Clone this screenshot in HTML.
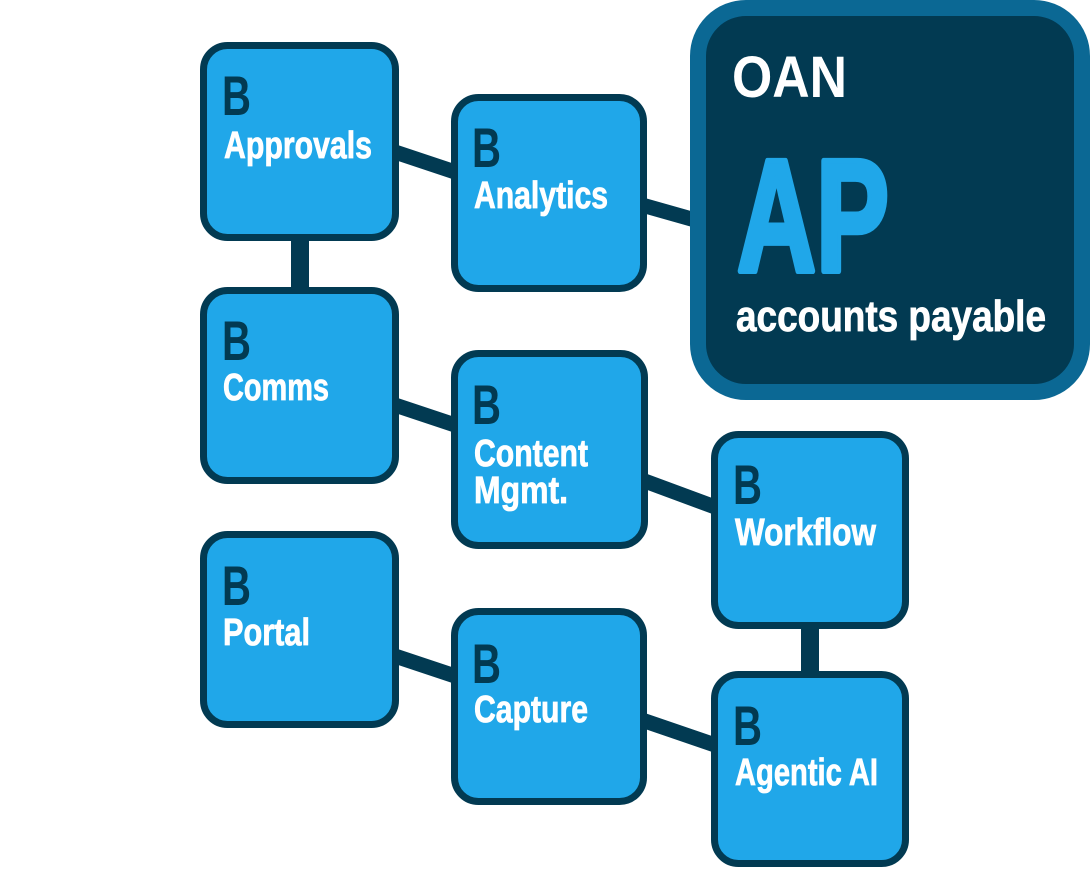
<!DOCTYPE html>
<html><head><meta charset="utf-8">
<style>
html,body{margin:0;padding:0;background:#fff;}
svg{display:block;}
.b{font-family:"Liberation Sans Narrow","Liberation Sans",sans-serif;font-weight:bold;fill:#023a52;font-size:56px;}
.l{font-family:"Liberation Sans Narrow","Liberation Sans",sans-serif;font-weight:bold;fill:#fff;font-size:38px;stroke:#fff;stroke-width:0.8;}
</style></head>
<body>
<svg width="1090" height="870" viewBox="0 0 1090 870" xmlns="http://www.w3.org/2000/svg">
<g stroke="#023a52" stroke-width="15" fill="none">
  <line x1="395" y1="152" x2="455" y2="172"/>
  <line x1="642" y1="205" x2="695" y2="220"/>
  <line x1="300" y1="238" x2="300" y2="290" stroke-width="18"/>
  <line x1="395" y1="405" x2="455" y2="425"/>
  <line x1="642" y1="480" x2="715" y2="507"/>
  <line x1="395" y1="656" x2="455" y2="676"/>
  <line x1="642" y1="720" x2="715" y2="745"/>
  <line x1="810" y1="625" x2="810" y2="674" stroke-width="18"/>
</g>
<g fill="#20a7e9" stroke="#023a52" stroke-width="7">
  <rect x="203.5" y="45.5" width="192" height="192" rx="24"/>
  <rect x="454.5" y="97.5" width="189" height="191" rx="24"/>
  <rect x="203.5" y="290.5" width="192" height="190" rx="24"/>
  <rect x="454.5" y="353.5" width="190" height="192" rx="24"/>
  <rect x="714.5" y="434.5" width="191" height="191" rx="24"/>
  <rect x="203.5" y="534.5" width="192" height="190" rx="24"/>
  <rect x="454.5" y="611.5" width="189" height="190" rx="24"/>
  <rect x="714.5" y="674.5" width="191" height="189" rx="24"/>
</g>
<rect x="698" y="8" width="384" height="384" rx="48" fill="#023a52" stroke="#0b6894" stroke-width="16"/>
<text x="732" y="97" font-family="Liberation Sans,sans-serif" font-weight="bold" font-size="58" fill="#fff" textLength="115" lengthAdjust="spacingAndGlyphs">OAN</text>
<text x="737" y="271" font-family="Liberation Sans Narrow,Liberation Sans,sans-serif" font-weight="bold" font-size="160" fill="#20a7e9" stroke="#20a7e9" stroke-width="6" stroke-linejoin="round" textLength="152" lengthAdjust="spacingAndGlyphs">AP</text>
<text x="736" y="331" font-family="Liberation Sans Narrow,Liberation Sans,sans-serif" font-weight="bold" font-size="44" fill="#fff" stroke="#fff" stroke-width="0.8" textLength="310" lengthAdjust="spacingAndGlyphs">accounts payable</text>

<text class="b" x="222" y="115" textLength="29" lengthAdjust="spacingAndGlyphs">B</text>
<text class="l" x="224" y="158" textLength="148" lengthAdjust="spacingAndGlyphs">Approvals</text>
<text class="b" x="472" y="167" textLength="29" lengthAdjust="spacingAndGlyphs">B</text>
<text class="l" x="474" y="208" textLength="134" lengthAdjust="spacingAndGlyphs">Analytics</text>
<text class="b" x="222" y="360" textLength="29" lengthAdjust="spacingAndGlyphs">B</text>
<text class="l" x="223" y="400" textLength="106" lengthAdjust="spacingAndGlyphs">Comms</text>
<text class="b" x="472" y="424" textLength="29" lengthAdjust="spacingAndGlyphs">B</text>
<text class="l" x="474" y="466" textLength="114" lengthAdjust="spacingAndGlyphs">Content</text>
<text class="l" x="474" y="503" textLength="94" lengthAdjust="spacingAndGlyphs">Mgmt.</text>
<text class="b" x="733" y="504" textLength="29" lengthAdjust="spacingAndGlyphs">B</text>
<text class="l" x="735" y="545" textLength="141" lengthAdjust="spacingAndGlyphs">Workflow</text>
<text class="b" x="222" y="605" textLength="29" lengthAdjust="spacingAndGlyphs">B</text>
<text class="l" x="223" y="645" textLength="87" lengthAdjust="spacingAndGlyphs">Portal</text>
<text class="b" x="472" y="683" textLength="29" lengthAdjust="spacingAndGlyphs">B</text>
<text class="l" x="474" y="722" textLength="114" lengthAdjust="spacingAndGlyphs">Capture</text>
<text class="b" x="733" y="745" textLength="29" lengthAdjust="spacingAndGlyphs">B</text>
<text class="l" x="735" y="785" textLength="143" lengthAdjust="spacingAndGlyphs">Agentic AI</text>
</svg>
</body></html>
